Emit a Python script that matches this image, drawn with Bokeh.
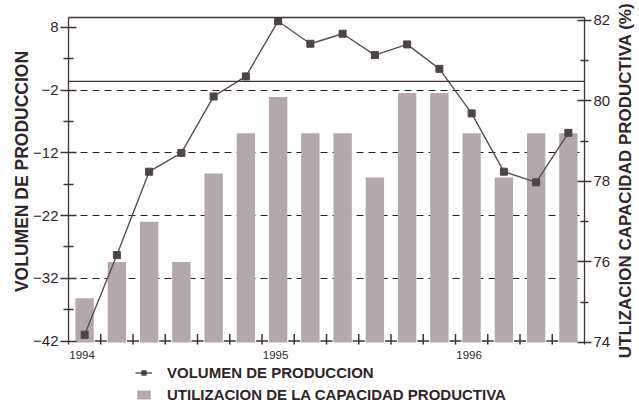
import math
from bokeh.plotting import figure
from bokeh.layouts import row, column
from bokeh.models import (Range1d, LinearAxis, FixedTicker, Span, Legend,
                          LegendItem, Label)
from bokeh.embed import file_html
from bokeh.resources import INLINE

# ---- data ----
periods = list(range(16))  # bimonthly periods, Jan-Feb 1994 ... Jul-Aug 1996
volumen = [-41.0, -28.3, -15.0, -12.0, -3.0, 0.2, 9.0, 5.4,
           7.0, 3.6, 5.3, 1.4, -5.7, -15.0, -16.7, -8.8]
utilizacion = [75.1, 76.0, 77.0, 76.0, 78.2, 79.2, 80.1, 79.2,
               79.2, 78.1, 80.2, 80.2, 79.2, 78.1, 79.2, 79.2]
year_labels = ["1994", "1995", "1996"]
year_start = [0, 6, 12]
vol_ticks = [-42, -32, -22, -12, -2, 8]
vol_minor = [-37, -27, -17, -7, 3]
util_ticks = [74, 76, 78, 80, 82]
util_minor = [75, 77, 79, 81]
grid_levels = [-32, -22, -12, -2]
ref_level = -0.6
series_names = ["VOLUMEN DE PRODUCCION", "UTILIZACION DE LA CAPACIDAD PRODUCTIVA"]
left_title = "VOLUMEN DE PRODUCCION"
right_title = "UTLIZACION CAPACIDAD PRODUCTIVA (%)"

FONT = "Liberation Sans"
INK = "#2e2628"
AXIS = "#3d3236"
BAR = "#b3a9ad"
LINE = "#5a4e51"
MARK = "#4d4447"

boundaries = [i + 0.5 for i in periods[:-1]]
year_pos = [round(s - 0.08, 2) for s in year_start]
TOTAL_H = 403


def strip(width, height):
    f = figure(width=width, height=height, output_backend="svg",
               toolbar_location=None, x_range=Range1d(0, 1),
               y_range=Range1d(0, 1), min_border=0,
               x_axis_location=None, y_axis_location=None)
    f.outline_line_color = None
    f.grid.visible = False
    return f


p = figure(width=583, height=361, output_backend="svg", toolbar_location=None,
           x_range=Range1d(-0.5, 15.5), y_range=Range1d(-42.556, 9.59),
           min_border_left=38, min_border_right=27, min_border_top=17,
           min_border_bottom=0)
p.extra_y_ranges = {"util": Range1d(73.95, 82.074)}
p.outline_line_color = None
p.background_fill_color = "white"
p.border_fill_color = "white"
p.xgrid.visible = False
p.ygrid.ticker = FixedTicker(ticks=grid_levels)
p.ygrid.grid_line_color = "#262022"
p.ygrid.grid_line_dash = "7 5"
p.ygrid.grid_line_width = 1.2

xa = p.xaxis[0]
ya = p.yaxis[0]

# left axis
ya.ticker = FixedTicker(ticks=vol_ticks, minor_ticks=vol_minor)
ya.axis_line_color = AXIS
ya.axis_line_width = 1.3
ya.major_tick_in = 8
ya.major_tick_out = 8
ya.minor_tick_in = 5
ya.minor_tick_out = 5
ya.major_tick_line_color = AXIS
ya.minor_tick_line_color = AXIS
ya.major_tick_line_width = 1.3
ya.minor_tick_line_width = 1.3
ya.major_label_standoff = 2
ya.major_label_text_font = FONT
ya.major_label_text_font_size = "15px"
ya.major_label_text_color = INK

# right axis
ra = LinearAxis(y_range_name="util",
                ticker=FixedTicker(ticks=util_ticks, minor_ticks=util_minor))
ra.axis_line_color = AXIS
ra.axis_line_width = 1.3
ra.major_tick_in = 7
ra.major_tick_out = 7
ra.minor_tick_in = 4
ra.minor_tick_out = 4
ra.major_tick_line_color = AXIS
ra.minor_tick_line_color = AXIS
ra.major_tick_line_width = 1.3
ra.minor_tick_line_width = 1.3
ra.major_label_standoff = 2
ra.major_label_text_font = FONT
ra.major_label_text_font_size = "15px"
ra.major_label_text_color = INK
p.add_layout(ra, "right")

# top frame line
ta = LinearAxis(ticker=FixedTicker(ticks=[]))
ta.axis_line_color = AXIS
ta.axis_line_width = 1.3
ta.major_tick_line_color = None
ta.minor_tick_line_color = None
ta.major_label_text_font_size = "0px"
p.add_layout(ta, "above")

# bottom axis: only year labels
xa.ticker = FixedTicker(ticks=year_pos)
xa.major_label_overrides = {k: v for k, v in zip(year_pos, year_labels)}
xa.axis_line_color = None
xa.major_tick_line_color = None
xa.minor_tick_line_color = None
xa.major_tick_out = 0
xa.major_tick_in = 0
xa.major_label_standoff = 6
xa.major_label_text_font = FONT
xa.major_label_text_font_size = "11.5px"
xa.major_label_text_color = INK

# reference line
p.add_layout(Span(location=ref_level, dimension="width", line_color=AXIS,
                  line_width=1.4))

p.vbar(x=periods, top=utilizacion, bottom=util_ticks[0], width=0.57,
       y_range_name="util", fill_color=BAR, line_color=None)

# "+" marks along the base, between bars (thin filled bars, screen-sized)
n = len(boundaries)
base = [vol_ticks[0]] * n
p.rect(x=boundaries, y=base, width=1.5, height=14, width_units="screen",
       height_units="screen", fill_color=AXIS, line_color=None)
p.rect(x=boundaries, y=base, width=12, height=1.5, width_units="screen",
       height_units="screen", fill_color=AXIS, line_color=None)

p.line(periods, volumen, line_color=LINE, line_width=1.4)
p.scatter(periods, volumen, marker="square", size=7,
          fill_color=MARK, line_color=MARK)

# ---- legend strip ----
p2 = figure(width=583, height=TOTAL_H - 361, output_backend="svg",
            toolbar_location=None,
            x_range=Range1d(-0.5, 15.5), y_range=Range1d(-42.556, 9.59),
            min_border=0, min_border_left=38, min_border_right=27,
            x_axis_location=None, y_axis_location=None)
p2.outline_line_color = None
p2.grid.visible = False
l_line = p2.line(periods, volumen, line_color=LINE, line_width=1.4, visible=False)
l_mark = p2.scatter(periods, volumen, marker="square", size=6,
                    fill_color=MARK, line_color=MARK, visible=False)
l_bar = p2.vbar(x=periods, top=utilizacion, width=0.57, fill_color=BAR,
                line_color=None, visible=False)
legend = Legend(items=[
    LegendItem(label=series_names[0], renderers=[l_line, l_mark]),
    LegendItem(label=series_names[1], renderers=[l_bar]),
], location=(67, 0), orientation="vertical", padding=0, margin=0,
    spacing=5, glyph_width=17, glyph_height=11, label_standoff=15,
    label_height=16, label_text_font=FONT, label_text_font_size="15px",
    label_text_font_style="bold", label_text_color=INK,
    inactive_fill_alpha=0.0, background_fill_alpha=0,
    border_line_color=None)
p2.add_layout(legend, "center")

# ---- axis title strips ----
p0 = strip(30, TOTAL_H)
p0.add_layout(Label(x=21, y=TOTAL_H - 171, x_units="screen", y_units="screen",
                    text=left_title, angle=math.pi / 2,
                    text_align="center", text_baseline="middle",
                    text_font=FONT, text_font_size="17.5px",
                    text_font_style="bold", text_color=INK))
p3 = strip(24, TOTAL_H)
p3.add_layout(Label(x=12, y=TOTAL_H - 180, x_units="screen", y_units="screen",
                    text=right_title, angle=math.pi / 2,
                    text_align="center", text_baseline="middle",
                    text_font=FONT, text_font_size="17px",
                    text_font_style="bold", text_color=INK))

layout = row(p0, column(p, p2), p3)
open("out.html", "w").write(file_html(layout, INLINE))
